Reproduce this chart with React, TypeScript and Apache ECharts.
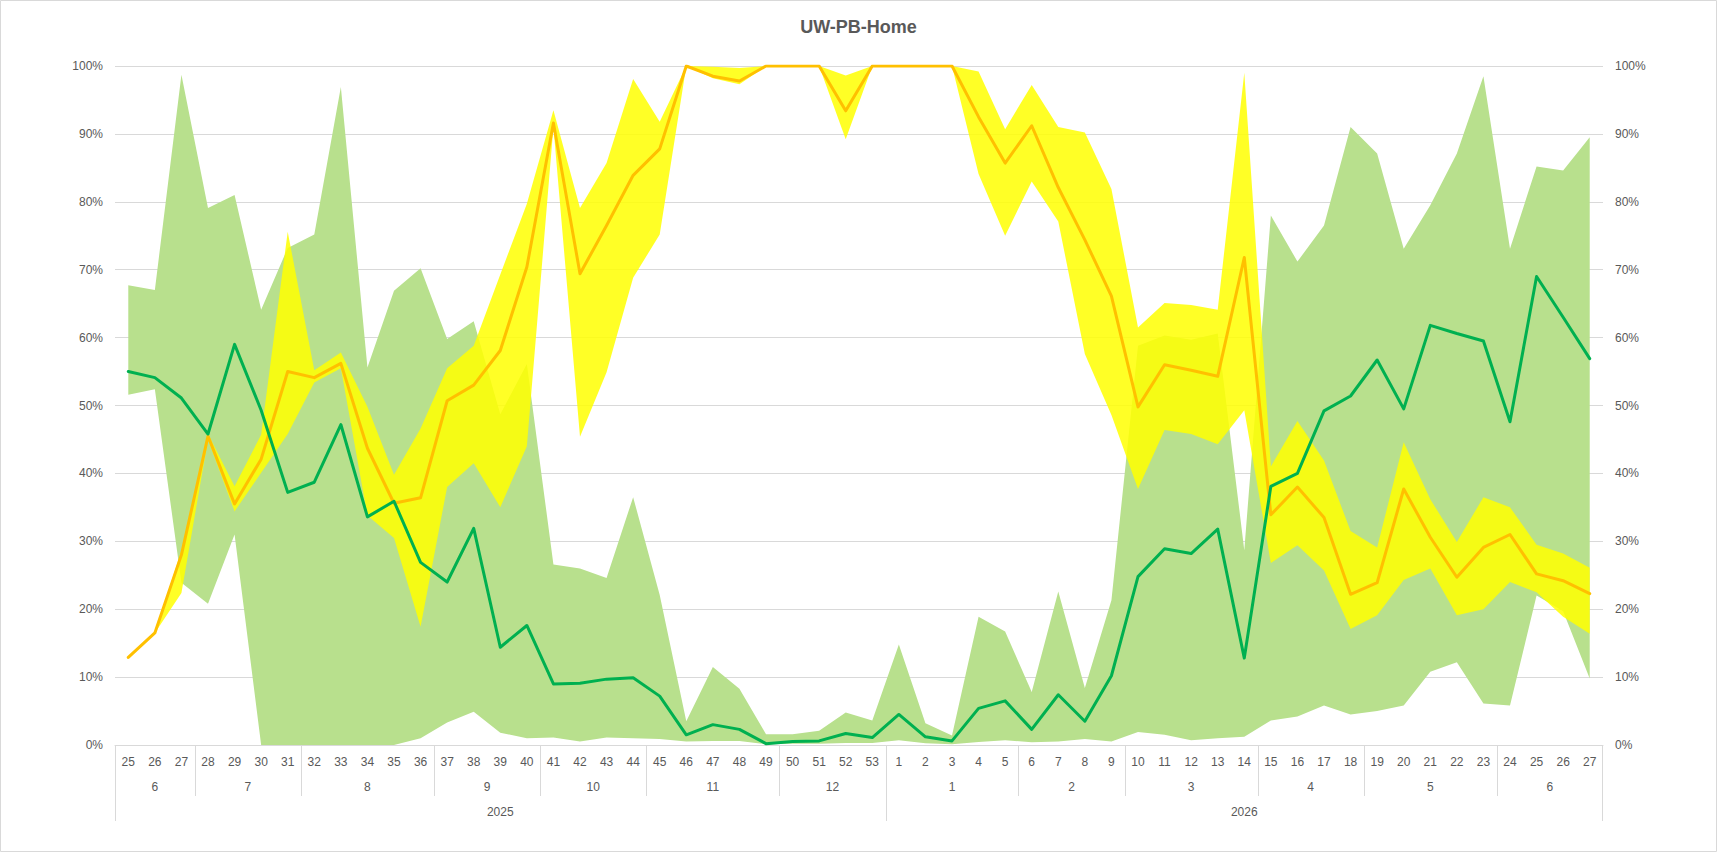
import React, { useEffect, useRef } from "react";
import * as echarts from "echarts";

const weeks = [
  "25","26","27","28","29","30","31","32","33","34","35","36","37","38","39","40","41","42","43","44","45","46","47","48","49","50","51","52","53",
  "1","2","3","4","5","6","7","8","9","10","11","12","13","14","15","16","17","18","19","20","21","22","23","24","25","26","27",
];
const monthLabels = ["6","7","8","9","10","11","12","1","2","3","4","5","6"];
const monthSpans = [3, 4, 5, 4, 4, 5, 4, 5, 4, 5, 4, 5, 4];
const yearLabels = ["2025", "2026"];
const yearSpans = [29, 27];
const yTicks = [0, 10, 20, 30, 40, 50, 60, 70, 80, 90, 100];

const greenLower = [
  51.6, 52.4, 23.9, 20.8, 31.0, 0, 0, 0, 0, 0, 0, 1.0, 3.3, 4.9, 1.8, 1.0, 1.1, 0.5, 1.1, 1.0, 0.9, 0.5, 0.6, 0.6, 0.1, 0.2, 0.2, 0.3, 0.3,
  0.7, 0.25, 0.1, 0.45, 0.7, 0.4, 0.5, 0.9, 0.5, 1.9, 1.5, 0.7, 1.0, 1.2, 3.6, 4.2, 5.8, 4.5, 5.0, 5.8, 10.8, 12.2, 6.1, 5.8, 22.0, 19.7, 9.8,
];
const greenUpper = [
  67.7, 67.0, 98.7, 79.1, 81.0, 64.1, 73.2, 75.2, 96.9, 55.6, 66.9, 70.2, 59.8, 62.4, 48.7, 56.1, 26.6, 26.0, 24.6, 36.5, 22.1, 3.5, 11.5, 8.3, 1.6, 1.6, 2.1, 4.8, 3.6,
  14.8, 3.2, 1.4, 18.9, 16.7, 7.8, 22.6, 8.4, 21.3, 58.8, 60.3, 59.7, 60.6, 28.7, 78.0, 71.2, 76.5, 91.0, 87.1, 73.1, 79.5, 87.1, 98.5, 73.1, 85.2, 84.6, 89.5,
];
const greenLine = [
  55.0, 54.1, 51.1, 45.8, 59.0, 49.3, 37.2, 38.7, 47.2, 33.6, 35.9, 26.9, 24.0, 31.9, 14.4, 17.6, 9.0, 9.1, 9.7, 9.9, 7.2, 1.5, 3.0, 2.3, 0.2, 0.5, 0.6, 1.7, 1.1,
  4.5, 1.2, 0.6, 5.4, 6.5, 2.3, 7.4, 3.5, 10.2, 24.8, 28.9, 28.2, 31.8, 12.8, 38.1, 40.0, 49.2, 51.4, 56.7, 49.5, 61.8, 60.6, 59.5, 47.6, 69.0, 63.0, 56.9,
];
const yellowLower = [
  12.9, 16.5, 22.4, 45.0, 34.4, 40.1, 45.8, 53.4, 55.5, 33.8, 30.5, 17.4, 38.0, 41.5, 35.0, 44.0, 91.0, 45.4, 54.9, 68.8, 75.2, 100, 98.2, 97.3, 100, 100, 100, 89.2, 100,
  100, 100, 100, 84.1, 75.0, 83.0, 77.1, 57.6, 48.6, 37.7, 46.4, 45.8, 44.3, 49.3, 26.8, 29.4, 25.7, 17.1, 19.1, 24.3, 26.0, 19.1, 20.0, 24.0, 22.5, 18.9, 16.4,
];
const yellowUpper = [
  12.9, 16.5, 28.7, 45.8, 38.1, 45.7, 75.6, 55.2, 57.8, 49.8, 39.8, 46.6, 55.5, 58.8, 69.3, 79.7, 93.5, 79.1, 85.7, 98.1, 91.8, 100, 99.9, 99.7, 100, 100, 100, 98.6, 100,
  100, 100, 100, 99.2, 90.7, 97.2, 91.0, 90.2, 81.9, 61.5, 65.1, 64.8, 64.1, 99.0, 41.0, 47.7, 41.9, 31.5, 29.1, 44.6, 36.2, 29.9, 36.5, 35.0, 29.5, 28.2, 26.1,
];
const orangeLine = [
  12.9, 16.5, 28.0, 45.5, 35.5, 42.1, 55.0, 54.1, 56.2, 43.7, 35.6, 36.4, 50.7, 53.0, 58.1, 70.4, 91.6, 69.4, 76.5, 83.9, 87.8, 100, 98.5, 97.8, 100, 100, 100, 93.4, 100,
  100, 100, 100, 92.5, 85.7, 91.2, 82.1, 74.4, 66.1, 49.8, 56.0, 55.2, 54.3, 71.8, 33.9, 38.0, 33.5, 22.2, 23.9, 37.7, 30.6, 24.7, 29.1, 31.0, 25.2, 24.2, 22.3,
];

const FONT = "'Liberation Sans', Arial, sans-serif";
const GRAY_TEXT = "#595959";
const GRID_LINE = "#D9D9D9";

function groups(spans: number[]) {
  const out: number[][] = [];
  let s = 0;
  spans.forEach((n) => {
    out.push([s, s + n - 1, 0]);
    s += n;
  });
  return out;
}

function groupRow(labels: string[], spans: number[], textOffset: number, lineLen: number, name: string) {
  const data = groups(spans);
  const total = spans.reduce((a, b) => a + b, 0);
  return {
    type: "custom",
    name,
    silent: true,
    clip: false,
    z: 1,
    encode: { x: [0, 1], y: 2 },
    data,
    renderItem: (params: any, api: any) => {
      const s = api.value(0);
      const e = api.value(1);
      const bw = api.size([1, 0])[0];
      const p0 = api.coord([s, 0]);
      const p1 = api.coord([e, 0]);
      const left = p0[0] - bw / 2;
      const right = p1[0] + bw / 2;
      const y0 = p0[1];
      const children: any[] = [
        {
          type: "line",
          shape: { x1: Math.round(left) + 0.5, y1: y0, x2: Math.round(left) + 0.5, y2: y0 + lineLen },
          style: { stroke: GRID_LINE, lineWidth: 1 },
        },
        {
          type: "text",
          x: (left + right) / 2,
          y: y0 + textOffset,
          style: {
            text: labels[params.dataIndex],
            fill: GRAY_TEXT,
            fontSize: 12,
            fontFamily: FONT,
            align: "center",
            verticalAlign: "middle",
          },
        },
      ];
      if (e === total - 1) {
        children.push({
          type: "line",
          shape: { x1: Math.round(right) - 0.5, y1: y0, x2: Math.round(right) - 0.5, y2: y0 + lineLen },
          style: { stroke: GRID_LINE, lineWidth: 1 },
        });
      }
      return { type: "group", children };
    },
  };
}

export default function App() {
  const ref = useRef<HTMLDivElement>(null);
  useEffect(() => {
    const chart = echarts.init(ref.current!, null, { renderer: "svg" });
    const greenDiff = greenUpper.map((v, i) => +(v - greenLower[i]).toFixed(2));
    const yellowDiff = yellowUpper.map((v, i) => +(v - yellowLower[i]).toFixed(2));
    const yAxisBase = {
      type: "value",
      min: yTicks[0],
      max: yTicks[yTicks.length - 1],
      interval: 10,
      axisLine: { show: false },
      axisTick: { show: false },
    };
    chart.setOption({
      animation: false,
      backgroundColor: "#FFFFFF",
      title: {
        text: "UW-PB-Home",
        left: "center",
        top: 13,
        textStyle: { fontFamily: FONT, fontSize: 18, fontWeight: "bold", color: GRAY_TEXT },
      },
      graphic: [
        {
          type: "rect",
          shape: { x: 0.5, y: 0.5, width: 1716, height: 851 },
          style: { fill: "none", stroke: GRID_LINE, lineWidth: 1 },
          silent: true,
        },
      ],
      grid: { left: 115, right: 114, top: 66, bottom: 107, containLabel: false, outerBoundsMode: "none" },
      xAxis: {
        type: "category",
        data: weeks,
        boundaryGap: true,
        axisLine: { show: true, lineStyle: { color: GRID_LINE, width: 1 } },
        axisTick: { show: false },
        axisLabel: { interval: 0, margin: 11, color: GRAY_TEXT, fontSize: 12, fontFamily: FONT },
        splitLine: { show: false },
      },
      yAxis: [
        {
          ...yAxisBase,
          position: "left",
          splitLine: { show: true, lineStyle: { color: GRID_LINE, width: 1 } },
          axisLabel: { formatter: "{value}%", margin: 12, color: GRAY_TEXT, fontSize: 12, fontFamily: FONT },
        },
        {
          ...yAxisBase,
          position: "right",
          splitLine: { show: false },
          axisLabel: { formatter: "{value}%", margin: 12, color: GRAY_TEXT, fontSize: 12, fontFamily: FONT },
        },
      ],
      series: [
        {
          type: "line",
          name: "gBase",
          stack: "g",
          data: greenLower,
          symbol: "none",
          lineStyle: { width: 0, opacity: 0 },
          silent: true,
          z: 2,
        },
        {
          type: "line",
          name: "gBand",
          stack: "g",
          data: greenDiff,
          symbol: "none",
          lineStyle: { width: 0, opacity: 0 },
          areaStyle: { color: "#B8E08D", opacity: 1 },
          silent: true,
          z: 2,
        },
        {
          type: "line",
          name: "yBase",
          stack: "y",
          data: yellowLower,
          symbol: "none",
          lineStyle: { width: 0, opacity: 0 },
          silent: true,
          z: 3,
        },
        {
          type: "line",
          name: "yBand",
          stack: "y",
          data: yellowDiff,
          symbol: "none",
          lineStyle: { width: 0, opacity: 0 },
          areaStyle: { color: "#FFFF00", opacity: 0.85 },
          silent: true,
          z: 3,
        },
        {
          type: "line",
          name: "orange",
          data: orangeLine,
          symbol: "none",
          lineStyle: { color: "#FFC000", width: 3, join: "round", cap: "round" },
          z: 4,
        },
        {
          type: "line",
          name: "green",
          data: greenLine,
          symbol: "none",
          lineStyle: { color: "#00B050", width: 3, join: "round", cap: "round" },
          z: 5,
        },
        groupRow(monthLabels, monthSpans, 42, 51, "months"),
        groupRow(yearLabels, yearSpans, 67, 76, "years"),
      ],
    });
    return () => chart.dispose();
  }, []);
  return <div ref={ref} style={{ position: "absolute", left: 0, top: 0, width: 1717, height: 852 }} />;
}
